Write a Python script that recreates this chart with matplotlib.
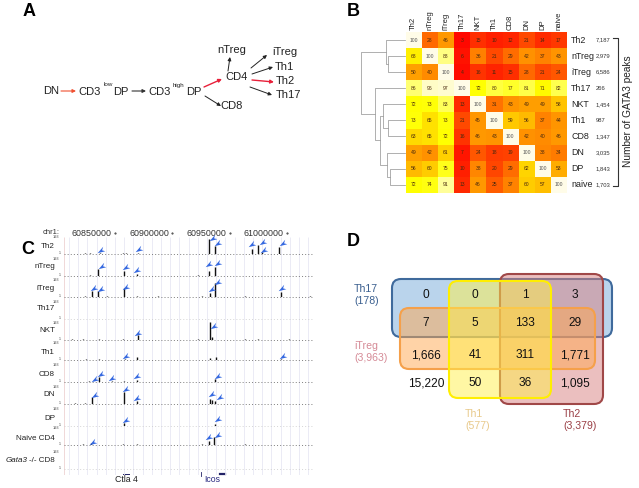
import matplotlib
matplotlib.use("Agg")
import matplotlib.pyplot as plt
import numpy as np
from matplotlib.colors import LinearSegmentedColormap
from matplotlib.patches import FancyBboxPatch
from matplotlib.path import Path

plt.rcParams['font.family'] = ['Liberation Sans', 'DejaVu Sans']
W, H = 639, 488

# ---------- data: panel A ----------
lineage_labels = ["DN", "nTreg", "CD4", "iTreg", "Th1", "Th2", "Th17", "CD8"]
lineage_pos = [(51, 91), (232, 50), (236, 77), (285, 52), (284, 67), (285, 81), (288, 95), (232, 106)]
lineage_edges = [((61, 91), (76, 91), '#f05030', .8), ((132, 91), (146, 91), '#333333', .8),
                 ((204, 87), (222, 79), '#e8203a', 1.0), ((205, 96), (221, 106), '#222222', .7),
                 ((228, 71), (230, 57), '#222222', .7), ((251, 68), (267, 55), '#222222', .7),
                 ((252, 74), (273, 67), '#222222', .7), ((252, 80), (274, 82), '#e8203a', 1.0),
                 ((250, 87), (272, 95), '#222222', .7)]

# ---------- data: panel B ----------
hm_cols = ["Th2", "nTreg", "iTreg", "Th17", "NKT", "Th1", "CD8", "DN", "DP", "naive"]
hm_vals = np.array([
    [100, 28, 46, 3, 15, 10, 12, 21, 14, 17],
    [68, 100, 88, 6, 36, 21, 29, 42, 37, 43],
    [50, 40, 100, 4, 16, 11, 15, 28, 21, 24],
    [86, 96, 97, 100, 72, 80, 77, 81, 71, 82],
    [72, 73, 83, 13, 100, 31, 43, 49, 49, 58],
    [73, 65, 73, 21, 45, 100, 59, 56, 37, 44],
    [63, 65, 72, 16, 46, 43, 100, 42, 40, 46],
    [49, 42, 61, 7, 24, 18, 19, 100, 38, 34],
    [56, 60, 75, 10, 38, 20, 29, 62, 100, 53],
    [72, 74, 91, 13, 46, 25, 37, 60, 57, 100]])
peak_counts = ["7,187", "2,979", "6,586", "266", "1,454", "987", "1,347", "3,035", "1,843", "1,703"]
# nested (height, left, right); leaves are row numbers
dendro = (44, (19, 0, (17, 1, 2)),
          (30, 3, (25, (22, 4, (17, 5, 6)), (18, 7, (15, 8, 9)))))

# ---------- data: panel C ----------
track_names = ["Th2", "nTreg", "iTreg", "Th17", "NKT", "Th1", "CD8", "DN", "DP", "Naive CD4", "Gata3 -/- CD8"]
track_base = [254, 276, 297, 319, 340, 360, 382, 404, 426, 445, 469]
track_label_y = [246, 267, 288, 309, 331, 352, 374, 395, 418, 439, 460]
genome_ticks = [60850, 60900, 60950, 61000]
track_peaks = [
    [(60824, 8), (60828, 8), (60837, 15), (60857, 10), (60860, 10), (60870, 15), (60932, 160), (60937, 85), (60969, 53), (60974, 96), (60978, 20), (60993, 75)],
    [(60828, 10), (60835, 75), (60858, 53), (60869, 20), (60922, 8), (60932, 53), (60937, 96)],
    [(60830, 64), (60824, 8), (60835, 64), (60843, 10), (60858, 96), (60869, 10), (60887, 10), (60926, 10), (60933, 43), (60937, 150), (60963, 10), (60994, 53), (61020, 10)],
    [(60830, 4), (60858, 5)],
    [(60813, 8), (60822, 12), (60836, 12), (60857, 12), (60870, 53), (60922, 10), (60933, 190), (60934, 32), (60963, 8), (60974, 8), (61001, 10)],
    [(60825, 8), (60836, 10), (60859, 15), (60869, 30), (60933, 22), (60938, 32), (60994, 10)],
    [(60827, 10), (60836, 53), (60847, 10), (60858, 10), (60869, 21), (60937, 32)],
    [(60815, 6), (60824, 8), (60830, 75), (60858, 128), (60869, 32), (60933, 53), (60934, 43), (60937, 32)],
    [(60858, 32), (60937, 21)],
    [(60829, 21), (60822, 8), (60857, 10), (60869, 10), (60926, 8), (60932, 43), (60936, 85), (60963, 6)],
    []]
track_arrows = [
    [(60838, 43), (60871, 53), (60935, 171), (60940, 118), (60969, 107), (60979, 128), (60980, 43), (60996, 118)],
    [(60839, 107), (60860, 96), (60869, 64), (60932, 128), (60940, 139)],
    [(60832, 96), (60838, 85), (60860, 107), (60934, 85), (60940, 160), (60995, 96)],
    [],
    [(60870, 75), (60936, 150)],
    [(60860, 43), (60996, 43)],
    [(60833, 32), (60838, 85), (60847, 43), (60869, 64), (60940, 64)],
    [(60833, 96), (60860, 160), (60869, 64), (60934, 107), (60941, 75)],
    [(60860, 64), (60940, 75)],
    [(60831, 32), (60932, 85), (60940, 107)],
    []]

# ---------- data: panel D ----------
venn_rows = [["0", "0", "1", "3"], ["7", "5", "133", "29"],
             ["1,666", "41", "311", "1,771"], ["15,220", "50", "36", "1,095"]]
venn_x = [426, 475, 525, 575]
venn_y = [295, 323, 355, 383]
venn_sets = [("Th17", (392, 279, 220, 58), '#3f6a9c', '#8db8e0', .6),
             ("Th2", (500, 274, 103, 130), '#a04848', '#d88080', .5),
             ("iTreg", (400, 308, 195, 61), '#f5a04a', '#ffa850', .5),
             ("Th1", (449, 281, 102, 117), '#ffee00', '#fff04a', .5)]
venn_labels = [("Th17\n(178)", 354, 295, '#3a5f8f'), ("iTreg\n(3,963)", 354, 352, '#d58a96'),
               ("Th1\n(577)", 465, 420, '#e8c98a'), ("Th2\n(3,379)", 563, 420, '#9a3f45')]

# ---------- figure ----------
fig = plt.figure(figsize=(W / 100, H / 100), dpi=100)
ax = fig.add_axes([0, 0, 1, 1])
ax.set_xlim(0, W)
ax.set_ylim(H, 0)
ax.axis('off')


def box(x0, y0, w, h):
    return [x0 / W, 1 - (y0 + h) / H, w / W, h / H]


for s, x, y in [("A", 29, 12), ("B", 353, 12), ("C", 28, 249), ("D", 353, 241)]:
    ax.text(x, y, s, fontsize=13, fontweight='bold', ha='center', va='center')

# panel A
for s, (x, y) in zip(lineage_labels, lineage_pos):
    ax.text(x, y, s, fontsize=8, ha='center', va='center', color='#222222')
for s, x, y, fs in [("CD3", 90, 92, 8), ("low", 108, 85, 4.5), ("DP", 121, 92, 8),
                    ("CD3", 160, 92, 8), ("high", 178, 86, 4.5), ("DP", 194, 92, 8)]:
    ax.text(x, y, s, fontsize=fs, ha='center', va='center', color='#222222')
for a, b, c, lw in lineage_edges:
    ax.annotate("", xy=b, xytext=a, arrowprops=dict(arrowstyle='-|>', color=c, lw=lw, mutation_scale=5,
                                                    shrinkA=0, shrinkB=0))

# panel B
cmap = LinearSegmentedColormap.from_list("heat", [(0, '#ff0000'), (.15, '#ff3000'), (.28, '#ff6a00'),
                                                  (.43, '#ff9400'), (.5, '#ffa000'), (.6, '#ffcc00'),
                                                  (.72, '#ffff00'), (.88, '#ffff80'), (1, '#fffce8')])
hm_x, hm_y, hm_w, hm_h = 405.7, 32, 161, 160.7
axh = fig.add_axes(box(hm_x, hm_y, hm_w, hm_h))
axh.imshow(hm_vals, cmap=cmap, vmin=0, vmax=100, aspect='auto', interpolation='nearest')
axh.axis('off')
for i in range(10):
    for j in range(10):
        axh.text(j, i, str(hm_vals[i, j]), fontsize=3.6, ha='center', va='center',
                 color='#555555' if hm_vals[i, j] == 100 else '#4a2a10')
cw = hm_w / 10
ch = hm_h / 10
for i, s in enumerate(hm_cols):
    ax.text(hm_x + cw * (i + .5), 30, s, rotation=90, fontsize=5.5, ha='center', va='bottom', color='#222222')
    ax.text(571, hm_y + ch * (i + .5), s, fontsize=6.4, ha='left', va='center', color='#222222')
    ax.text(596, hm_y + ch * (i + .5), peak_counts[i], fontsize=4.2, ha='left', va='center', color='#333333')
ax.plot([613, 618, 618, 613], [38, 38, 186, 186], color='#333333', lw=.8)
ax.text(628, 111, "Number of GATA3 peaks", rotation=90, fontsize=7.3, ha='center', va='center', color='#222222')


def draw(node):
    """Return (height, y) of a dendrogram node, drawing its branches."""
    if not isinstance(node, tuple):
        return 0, hm_y + ch * (node + .5)
    h, l, r = node
    hl, yl = draw(l)
    hr, yr = draw(r)
    ax.plot([405 - hl, 405 - h, 405 - h, 405 - hr], [yl, yl, yr, yr], color='#9a9a9a', lw=.55)
    return h, (yl + yr) / 2


draw(dendro)

# panel C
x0, x1 = 64, 312
kb0 = 60850 + (x0 - 115) * 0.87
kb1 = 60850 + (x1 - 115) * 0.87
axg = fig.add_axes(box(x0, 235, x1 - x0, 240))
axg.set_xlim(kb0, kb1)
axg.set_ylim(475, 235)
axg.axis('off')
axg.vlines(np.arange(60810, 61020, 8), 237, 475, color='#e8e8f4', lw=.6)
axg.vlines([kb0], 237, 475, color='#f0d8d8', lw=.7)
for g in genome_ticks:
    axg.text(g - 3, 233, f"{g * 1000}", fontsize=6.4, ha='right', va='center', color='#333333', clip_on=False)
    axg.plot([g], [233], '.', ms=1, color='#333333', clip_on=False)
ax.text(60, 232, "chr1:", fontsize=5.5, ha='right', va='center', color='#333333')

arrow_marker = Path([(-1, -.7), (1, -.2), (.15, .05), (.45, 1), (-1, -.7)],
                    [Path.MOVETO, Path.LINETO, Path.LINETO, Path.LINETO, Path.CLOSEPOLY])
for name, base, ly, peaks, arrows in zip(track_names, track_base, track_label_y, track_peaks, track_arrows):
    a = fig.add_axes(box(x0, base - 18, x1 - x0, 18))
    a.patch.set_alpha(0)
    a.set_xlim(kb0, kb1)
    a.set_ylim(0, 193)
    a.axis('off')
    faint = name.startswith(("Th17", "Gata3", "DP"))
    a.plot([kb0, kb1], [0, 0], color='#c8c8c8' if faint else '#555555', lw=.5, ls=(0, (1.5, 3)), clip_on=False)
    if peaks:
        xs, ys = zip(*peaks)
        a.vlines(xs, 0, ys, color='#111111', lw=1.0)
    if arrows:
        xs, ys = zip(*arrows)
        a.plot(xs, ys, ls='', marker=arrow_marker, ms=5.5, mfc='#3468e0', mec='none', clip_on=False)
    ax.text(61, base - 1, "1", fontsize=2.6, ha='right', va='center', color='#444444')
    ax.text(59, base - 17, "193", fontsize=2.8, ha='right', va='center', color='#444444')
    if name.startswith("Gata3"):
        ax.text(28, ly, "Gata3", fontsize=5.8, style='italic', ha='right', va='center', color='#222222')
        ax.text(55, ly, "-/- CD8", fontsize=5.8, ha='right', va='center', color='#222222')
    else:
        ax.text(55, ly, name, fontsize=5.8, ha='right', va='center', color='#222222')
ax.text(126, 480, "Ctla 4", fontsize=6.3, ha='center', va='center', color='#222222')
ax.text(212, 480, "Icos", fontsize=6.3, ha='center', va='center', color='#2a2a80')
ax.plot([123, 129], [474, 474], color='#222266', lw=.7)
ax.plot([201, 201], [472, 476], color='#222266', lw=.6)
ax.plot([220, 225], [474, 474], color='#222266', lw=1.6)

# panel D
for name, (x, y, w, h), ec, fc, al in venn_sets:
    ax.add_patch(FancyBboxPatch((x, y), w, h, boxstyle="round,pad=0,rounding_size=9",
                                fc=matplotlib.colors.to_rgba(fc, al), ec=ec, lw=1.5))
for r, row in zip(venn_y, venn_rows):
    for c, s in zip(venn_x, row):
        ax.text(c, r, s, fontsize=8.6, ha='center', va='center', color='#111111')
for s, x, y, c in venn_labels:
    ax.text(x, y, s, fontsize=7.6, ha='left', va='center', color=c, linespacing=1.15)

fig.savefig("out.png", dpi=100)
